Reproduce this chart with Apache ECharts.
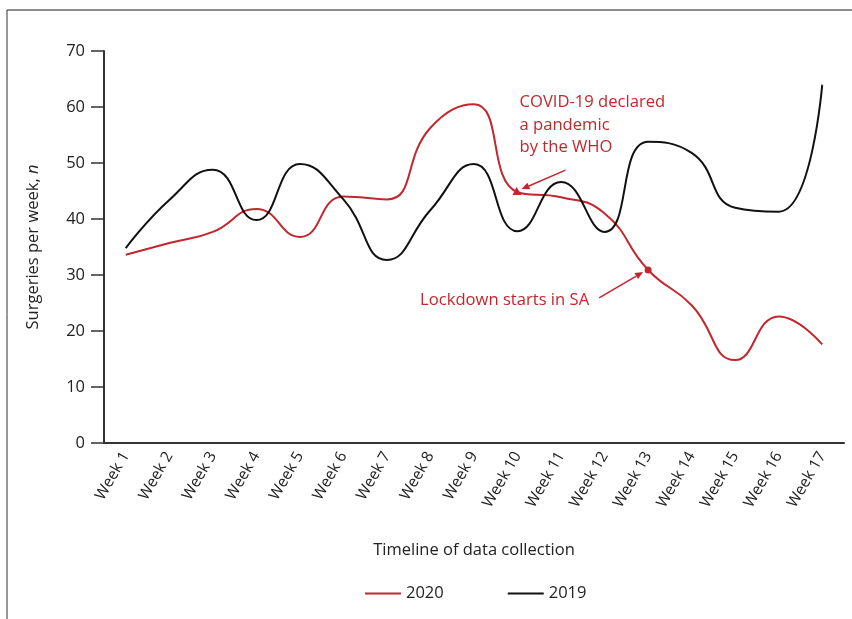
<!DOCTYPE html>
<html><head><meta charset="utf-8">
<script src="https://cdn.jsdelivr.net/npm/echarts@6/dist/echarts.min.js"></script>
<style>html,body{margin:0;padding:0;background:#fff}#c{width:852px;height:619px}</style>
</head><body><div id="c"></div>
<script>
var categories = ['Week 1','Week 2','Week 3','Week 4','Week 5','Week 6','Week 7','Week 8','Week 9','Week 10','Week 11','Week 12','Week 13','Week 14','Week 15','Week 16','Week 17'];
var values2020 = [33.6, 35.7, 37.7, 41.8, 36.8, 44.0, 43.5, 56.3, 60.5, 44.8, 43.9, 41.0, 30.9, 24.6, 14.8, 22.6, 17.6];
var values2019 = [34.8, 43.4, 48.8, 39.8, 49.8, 43.5, 32.7, 41.6, 49.8, 37.8, 46.6, 37.7, 53.8, 51.8, 42.0, 41.3, 64.0];
var yTicks = [0, 10, 20, 30, 40, 50, 60, 70];
var RED = '#c1272d';
var FONT = 'Open Sans';
var chart = echarts.init(document.getElementById('c'));
chart.setOption({
  animation: false,
  textStyle: {fontFamily: FONT},
  grid: {left: 104, right: 8, top: 51, bottom: 176},
  legend: {
    bottom: 12, left: 360, itemGap: 64, itemWidth: 36, itemHeight: 2, icon: 'rect',
    textStyle: {fontFamily: FONT, fontSize: 16.5, color: '#222'},
    data: ['2020', '2019']
  },
  xAxis: {
    type: 'category', data: categories, boundaryGap: true,
    name: 'Timeline of data collection', nameLocation: 'middle', nameGap: 99,
    nameTextStyle: {fontFamily: FONT, fontSize: 16.5, color: '#222'},
    axisLine: {lineStyle: {color: '#333', width: 2}},
    axisTick: {alignWithLabel: true, inside: true, length: 3, lineStyle: {color: '#333'}},
    axisLabel: {rotate: 60, fontFamily: FONT, fontSize: 15.5, color: '#222', margin: 10, interval: 0}
  },
  yAxis: {
    type: 'value', min: yTicks[0], max: yTicks[yTicks.length - 1], interval: 10,
    name: '{a|Surgeries per week, }{b|n}', nameLocation: 'middle', nameGap: 62,
    nameTextStyle: {rich: {a: {fontFamily: FONT, fontSize: 16.5, color: '#222'}, b: {fontFamily: FONT, fontSize: 16.5, fontStyle: 'italic', color: '#222'}}},
    splitLine: {show: false},
    axisLine: {show: true, lineStyle: {color: '#333', width: 2}},
    axisTick: {show: true, length: 13, lineStyle: {color: '#333', width: 1.5}},
    axisLabel: {fontFamily: FONT, fontSize: 16.5, color: '#222', margin: 19}
  },
  series: [
    {name: '2020', type: 'line', data: values2020, smooth: 0.5, symbol: 'none', lineStyle: {color: RED, width: 2}, itemStyle: {color: RED}},
    {name: '2019', type: 'line', data: values2019, smooth: 0.5, symbol: 'none', lineStyle: {color: '#111', width: 2}, itemStyle: {color: '#111'}}
  ]
});

function arrow(x1, y1, x2, y2) {
  var ang = Math.atan2(y2 - y1, x2 - x1), L = 8, W = 3.5;
  var bx = x2 - L * Math.cos(ang), by = y2 - L * Math.sin(ang);
  var px = -Math.sin(ang) * W, py = Math.cos(ang) * W;
  return [
    {type: 'line', shape: {x1: x1, y1: y1, x2: bx, y2: by}, style: {stroke: RED, lineWidth: 1.5}},
    {type: 'polygon', shape: {points: [[x2, y2], [bx + px, by + py], [bx - px, by - py]]}, style: {fill: RED}}
  ];
}
var p10 = chart.convertToPixel({seriesIndex: 0}, [9, values2020[9]]);
var p13 = chart.convertToPixel({seriesIndex: 0}, [12, values2020[12]]);
var g = [
  {type: 'line', shape: {x1: 7, y1: 10, x2: 852, y2: 10}, style: {stroke: '#8c8c8c', lineWidth: 2}},
  {type: 'line', shape: {x1: 7, y1: 10, x2: 7, y2: 619}, style: {stroke: '#333', lineWidth: 1}},
  {type: 'polygon', shape: {points: [[p10[0] - 1, p10[1] - 5], [p10[0] + 4, p10[1] + 3], [p10[0] - 5, p10[1] + 3]]}, style: {fill: RED}},
  {type: 'circle', shape: {cx: p13[0], cy: p13[1], r: 3.5}, style: {fill: RED}},
  {type: 'text', x: p10[0] + 2, y: p10[1] - 67, style: {text: 'COVID-19 declared\na pandemic\nby the WHO', fill: RED, font: '16.6px "Open Sans"', lineHeight: 22.5, verticalAlign: 'middle', align: 'left'}},
  {type: 'text', x: p13[0] - 59, y: p13[1] + 30, style: {text: 'Lockdown starts in SA', fill: RED, font: '16.6px "Open Sans"', verticalAlign: 'middle', align: 'right'}}
];
g = g.concat(arrow(p10[0] + 48, p10[1] - 22, p10[0] + 4, p10[1] - 3));
g = g.concat(arrow(p13[0] - 49, p13[1] + 28, p13[0] - 5, p13[1] + 2));
chart.setOption({graphic: g});
</script></body></html>
